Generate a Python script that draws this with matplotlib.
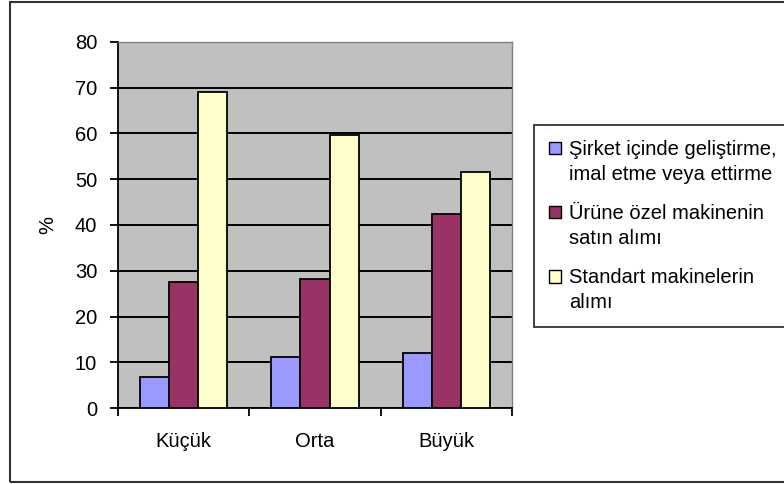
import matplotlib
matplotlib.use("Agg")
import matplotlib.pyplot as plt
import matplotlib.patches as mpatches
import numpy as np

categories = ["Küçük", "Orta", "Büyük"]
series_names = [
    "Şirket içinde geliştirme,\nimal etme veya ettirme",
    "Ürüne özel makinenin\nsatın alımı",
    "Standart makinelerin\nalımı",
]
in_house = [6.8, 11.2, 12.1]
special_machine = [27.5, 28.3, 42.3]
standard_machine = [69.1, 59.7, 51.5]
y_ticks = [0, 10, 20, 30, 40, 50, 60, 70, 80]

C_BLUE = "#9999ff"
C_RED = "#993366"
C_YELLOW = "#ffffcc"
C_PLOT = "#c0c0c0"

plt.rcParams["font.family"] = ["Liberation Sans", "DejaVu Sans"]
FS = 14.5

fig = plt.figure(figsize=(7.84, 4.84), dpi=100)
fig.patch.set_facecolor("white")

# outer chart frame (runs off the right edge)
frame = mpatches.Rectangle((10 / 784, 2 / 484), 1.0, 480 / 484,
                           transform=fig.transFigure, fill=False,
                           edgecolor="#333333", linewidth=1.5, clip_on=False)
fig.patches.append(frame)

ax = fig.add_axes([118 / 784, 1 - 408 / 484, 394 / 784, 366 / 484])
ax.set_facecolor(C_PLOT)

x = np.arange(len(categories))
w = 1 / 4.5
data = [in_house, special_machine, standard_machine]
colors = [C_BLUE, C_RED, C_YELLOW]
for i, (vals, col) in enumerate(zip(data, colors)):
    ax.bar(x + (i - 1) * w, vals, width=w, color=col, edgecolor="black",
           linewidth=1.3, zorder=3)

ax.set_xlim(-0.5, len(categories) - 0.5)
ax.set_ylim(0, 80)
ax.set_yticks(y_ticks)
ax.yaxis.grid(True, color="black", linewidth=1.4, zorder=1)
ax.set_axisbelow(True)

ax.set_xticks(x)
ax.set_xticklabels(categories, fontsize=FS)
ax.tick_params(axis="x", which="major", length=0, pad=17)
ax.set_xticks(np.arange(-0.5, len(categories), 1.0), minor=True)
ax.tick_params(axis="x", which="minor", length=6, width=1.3, direction="out")
ax.tick_params(axis="y", length=6, width=1.3, direction="out", labelsize=FS, pad=9)

for s in ["left", "bottom"]:
    ax.spines[s].set_color("black")
    ax.spines[s].set_linewidth(1.3)
for s in ["top", "right"]:
    ax.spines[s].set_color("#808080")
    ax.spines[s].set_linewidth(1.0)

fig.text(48 / 784, 1 - 225 / 484, "%", rotation=90, fontsize=FS,
         ha="center", va="center")

handles = [mpatches.Patch(facecolor=c, edgecolor="black", linewidth=1.0)
           for c in colors]
leg = fig.legend(handles, series_names, loc="upper left",
                 bbox_to_anchor=(534 / 784, 1 - 125 / 484),
                 fontsize=FS, frameon=True, fancybox=False,
                 handlelength=0.6, handleheight=0.6, handletextpad=0.4,
                 labelspacing=1.0, borderpad=0.75, borderaxespad=0)
leg.get_frame().set_edgecolor("black")
leg.get_frame().set_linewidth(1.3)
for t in leg.get_texts():
    t.set_linespacing(1.4)
for h in leg.legend_handles:
    h.set_y(h.get_y() + 10.5)

fig.savefig("out.png", dpi=100, facecolor="white")
